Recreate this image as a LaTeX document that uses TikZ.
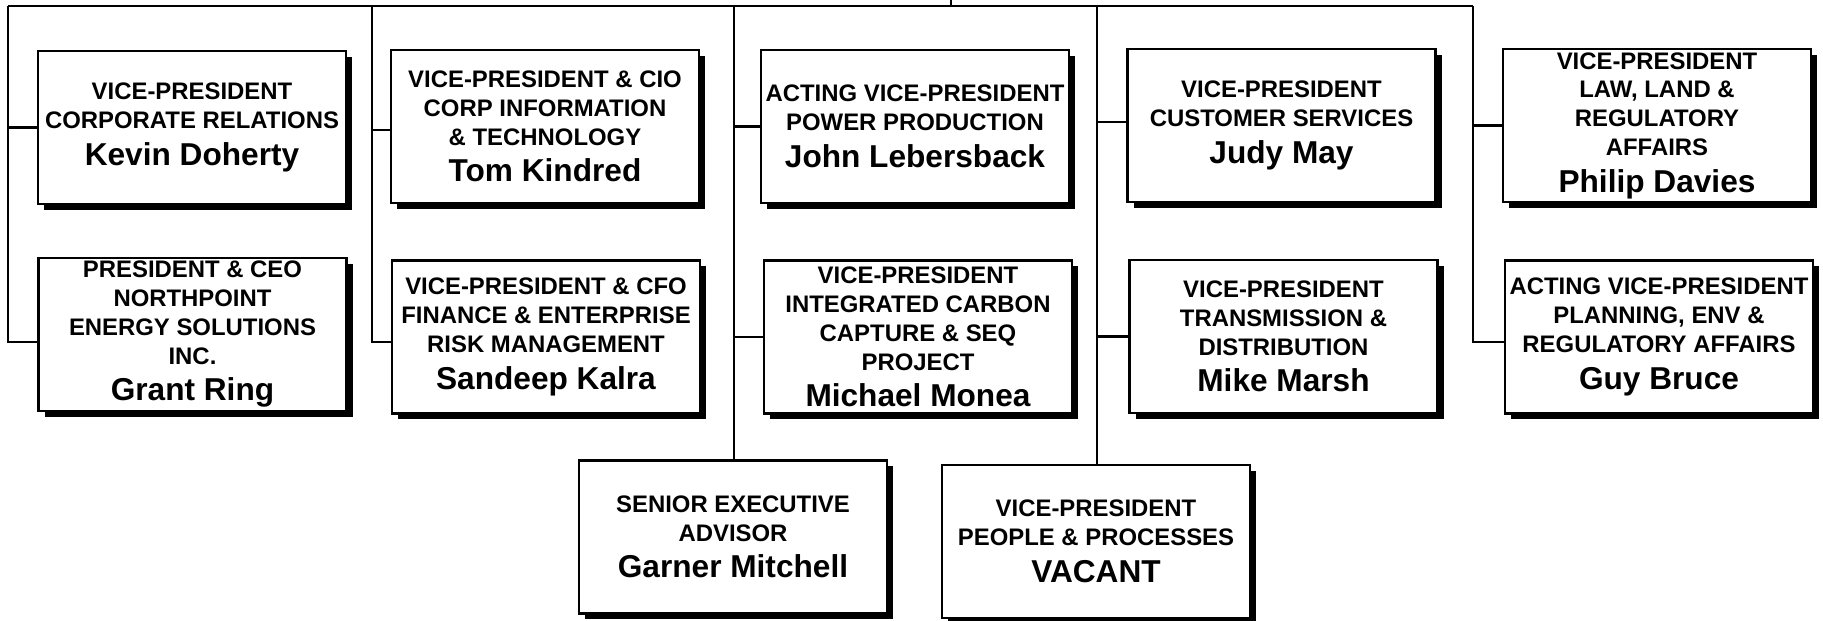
\documentclass[tikz,border=0pt]{standalone}
\usepackage{fontspec}
\setmainfont{Liberation Sans}
\usepackage{tikz}
\usetikzlibrary{shadows}

\newcommand{\titlefont}{\bfseries\fontsize{6.8}{8.2}\selectfont}
\newcommand{\namefont}{\bfseries\fontsize{9}{10.5}\selectfont}
\newcommand{\post}[2]{#1\\[2.2pt]{\namefont #2}}

\begin{document}
\begin{tikzpicture}[
    post/.style={draw, line width=0.6pt, fill=white, minimum width=3.08cm, minimum height=1.53cm,
        inner sep=0pt, align=center, font=\titlefont,
        drop shadow={shadow xshift=0.06cm, shadow yshift=-0.06cm, fill=black, opacity=1}},
    link/.style={line width=0.6pt}
]
    \useasboundingbox (0,0) rectangle (18.23,-6.21);

    % Reporting bar and column trunks
    \coordinate (top) at (9.51,0);
    \coordinate (t1) at (0.08,-0.06);
    \coordinate (t2) at (3.72,-0.06);
    \coordinate (t3) at (7.34,-0.06);
    \coordinate (t4) at (10.97,-0.06);
    \coordinate (t5) at (14.73,-0.06);

    % Upper row
    \node[post] (corp) at (1.92,-1.275) {\post{VICE-PRESIDENT\\CORPORATE RELATIONS}{Kevin Doherty}};
    \node[post] (cio) at (5.45,-1.265) {\post{VICE-PRESIDENT \& CIO\\CORP INFORMATION\\\& TECHNOLOGY}{Tom Kindred}};
    \node[post] (power) at (9.15,-1.265) {\post{ACTING VICE-PRESIDENT\\POWER PRODUCTION}{John Lebersback}};
    \node[post] (cust) at (12.815,-1.255) {\post{VICE-PRESIDENT\\CUSTOMER SERVICES}{Judy May}};
    \node[post] (law) at (16.57,-1.255) {\post{VICE-PRESIDENT\\LAW, LAND \&\\REGULATORY\\AFFAIRS}{Philip Davies}};

    % Lower row
    \node[post] (npes) at (1.925,-3.345) {\post{PRESIDENT \& CEO\\NORTHPOINT\\ENERGY SOLUTIONS\\INC.}{Grant Ring}};
    \node[post] (cfo) at (5.46,-3.37) {\post{VICE-PRESIDENT \& CFO\\FINANCE \& ENTERPRISE\\RISK MANAGEMENT}{Sandeep Kalra}};
    \node[post] (carbon) at (9.18,-3.37) {\post{VICE-PRESIDENT\\INTEGRATED CARBON\\CAPTURE \& SEQ\\PROJECT}{Michael Monea}};
    \node[post] (trans) at (12.835,-3.365) {\post{VICE-PRESIDENT\\TRANSMISSION \&\\DISTRIBUTION}{Mike Marsh}};
    \node[post] (plan) at (16.59,-3.37) {\post{ACTING VICE-PRESIDENT\\PLANNING, ENV \&\\REGULATORY AFFAIRS}{Guy Bruce}};

    % Bottom of the two middle trunks
    \node[post] (advisor) at (7.33,-5.37) {\post{SENIOR EXECUTIVE\\ADVISOR}{Garner Mitchell}};
    \node[post] (people) at (10.96,-5.415) {\post{VICE-PRESIDENT\\PEOPLE \& PROCESSES}{VACANT}};

    % Branch points that sit a little off the box middles
    \coordinate (npes in) at ([yshift=-0.075cm]npes.west);
    \coordinate (cfo in) at ([yshift=-0.05cm]cfo.west);
    \coordinate (cio in) at ([yshift=-0.035cm]cio.west);
    \coordinate (cust in) at ([yshift=0.035cm]cust.west);
    \coordinate (plan in) at ([yshift=-0.05cm]plan.west);

    % Connectors
    \draw[link] (t1) -- (t5);
    \draw[link] (top) -- (top |- t1);

    \draw[link] (t1) |- (npes in);
    \draw[link] (t1 |- corp.west) -- (corp.west);

    \draw[link] (t2) |- (cfo in);
    \draw[link] (t2 |- cio in) -- (cio in);

    \draw[link] (t3) -- (t3 |- advisor.north);
    \draw[link] (t3 |- power.west) -- (power.west);
    \draw[link] (t3 |- carbon.west) -- (carbon.west);

    \draw[link] (t4) -- (t4 |- people.north);
    \draw[link] (t4 |- cust in) -- (cust in);
    \draw[link] (t4 |- trans.west) -- (trans.west);

    \draw[link] (t5) |- (plan in);
    \draw[link] (t5 |- law.west) -- (law.west);
\end{tikzpicture}
\end{document}
